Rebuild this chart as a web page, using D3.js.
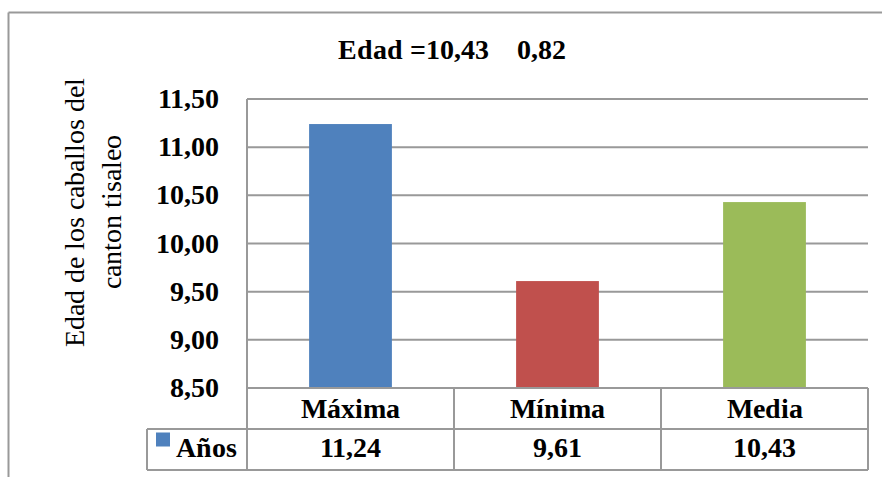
<!DOCTYPE html>
<html><head><meta charset="utf-8">
<script src="https://cdn.jsdelivr.net/npm/d3@7/dist/d3.min.js"></script>
<style>
  @font-face { font-family: "ChartSerif"; font-weight: 400; src: local("Liberation Serif"), local("LiberationSerif"), local("LiberationSerif-Regular"), local("Times New Roman"); }
  @font-face { font-family: "ChartSerif"; font-weight: 700; src: local("Liberation Serif Bold"), local("LiberationSerif-Bold"), local("Times New Roman Bold"); }
  svg text { font-family: "ChartSerif", "Liberation Serif", "Times New Roman", Tinos, Times; }
</style>
</head>
<body style="margin:0">
<svg id="chart" width="882" height="477"></svg>
<script>
// Age of the horses (years): maximum, minimum and mean
const categories = ["Máxima", "Mínima", "Media"];
const values = [11.24, 9.61, 10.43];
const valueLabels = ["11,24", "9,61", "10,43"];
const barColors = ["#4F81BD", "#C0504D", "#9BBB59"];
const seriesName = "Años";
const yTicks = [8.5, 9.0, 9.5, 10.0, 10.5, 11.0, 11.5];
const titleText = "Edad =10,43    0,82";
const yTitleLines = ["Edad de los caballos del", "canton tisaleo"];

const FS = 28;
const svg = d3.select("#chart");
const gridColor = "#999";

const plot = { left: 247, right: 868, top: 99, bottom: 388 };
const table = { rowH: 41, legendLeft: 147 };

const x = d3.scaleBand().domain(categories).range([plot.left, plot.right]).padding(0);
const y = d3.scaleLinear().domain([8.5, 11.5]).range([plot.bottom, plot.top]);
const fmt = v => d3.format(".2f")(v).replace(".", ",");

function label(sel) {
  return sel.attr("font-family", "Liberation Serif").attr("font-size", FS).attr("font-weight", "bold");
}

// outer chart frame (left and top edges visible)
svg.append("line").attr("x1", 8.5).attr("x2", 882).attr("y1", 12.5).attr("y2", 12.5)
  .attr("stroke", gridColor).attr("stroke-width", 2);
svg.append("line").attr("x1", 8.5).attr("x2", 8.5).attr("y1", 12.5).attr("y2", 477)
  .attr("stroke", gridColor).attr("stroke-width", 2);

// horizontal gridlines
svg.append("g").selectAll("line").data(yTicks).join("line")
  .attr("x1", plot.left).attr("x2", plot.right)
  .attr("y1", d => y(d)).attr("y2", d => y(d))
  .attr("stroke", gridColor).attr("stroke-width", 2);

// value axis line
svg.append("line").attr("x1", plot.left).attr("x2", plot.left)
  .attr("y1", plot.top).attr("y2", plot.bottom)
  .attr("stroke", gridColor).attr("stroke-width", 2);

// y tick labels
label(svg.append("g").selectAll("text").data(yTicks).join("text"))
  .attr("x", 219).attr("y", d => y(d) + 9)
  .attr("text-anchor", "end")
  .text(fmt);

// bars
const barW = x.bandwidth() * 0.4;
svg.append("g").selectAll("rect").data(values).join("rect")
  .attr("x", (d, i) => x(categories[i]) + (x.bandwidth() - barW) / 2)
  .attr("width", barW)
  .attr("y", d => y(d))
  .attr("height", d => y(8.5) - y(d))
  .attr("fill", (d, i) => barColors[i]);

// data table under the plot
const t0 = plot.bottom, t1 = t0 + table.rowH, t2 = t1 + table.rowH;
const tg = svg.append("g").attr("stroke", gridColor).attr("stroke-width", 2).attr("fill", "none");
tg.append("line").attr("x1", plot.left).attr("x2", plot.right).attr("y1", t0).attr("y2", t0);
tg.append("line").attr("x1", table.legendLeft).attr("x2", plot.right).attr("y1", t1).attr("y2", t1);
tg.append("line").attr("x1", table.legendLeft).attr("x2", plot.right).attr("y1", t2).attr("y2", t2);
tg.append("line").attr("x1", table.legendLeft).attr("x2", table.legendLeft).attr("y1", t1).attr("y2", t2);
const edges = categories.map(c => x(c)).concat([plot.right]);
tg.selectAll("line.v").data(edges).join("line").attr("class", "v")
  .attr("x1", d => d).attr("x2", d => d).attr("y1", t0).attr("y2", t2);

// category header row
label(svg.append("g").selectAll("text").data(categories).join("text"))
  .attr("x", d => x(d) + x.bandwidth() / 2).attr("y", t0 + 30)
  .attr("text-anchor", "middle")
  .text(d => d);

// value row
label(svg.append("g").selectAll("text").data(values).join("text"))
  .attr("x", (d, i) => x(categories[i]) + x.bandwidth() / 2).attr("y", t1 + 28)
  .attr("text-anchor", "middle")
  .text((d, i) => valueLabels[i]);

// legend key
svg.append("rect").attr("x", 156).attr("y", t1 + 3.5).attr("width", 14).attr("height", 14)
  .attr("fill", barColors[0]);
label(svg.append("text")).attr("x", 176).attr("y", t1 + 28)
  .text(seriesName);

// chart title
label(svg.append("text")).attr("x", 452).attr("y", 59)
  .attr("text-anchor", "middle")
  .attr("xml:space", "preserve")
  .text(titleText);

// y-axis title, two rotated lines
const yt = svg.append("text")
  .attr("transform", "translate(0,212) rotate(-90)")
  .attr("text-anchor", "middle")
  .attr("font-family", "Liberation Serif")
  .attr("font-size", FS);
yt.selectAll("tspan").data(yTitleLines).join("tspan")
  .attr("x", 0).attr("y", (d, i) => 84 + i * 37)
  .text(d => d);
</script>
</body>
</html>
